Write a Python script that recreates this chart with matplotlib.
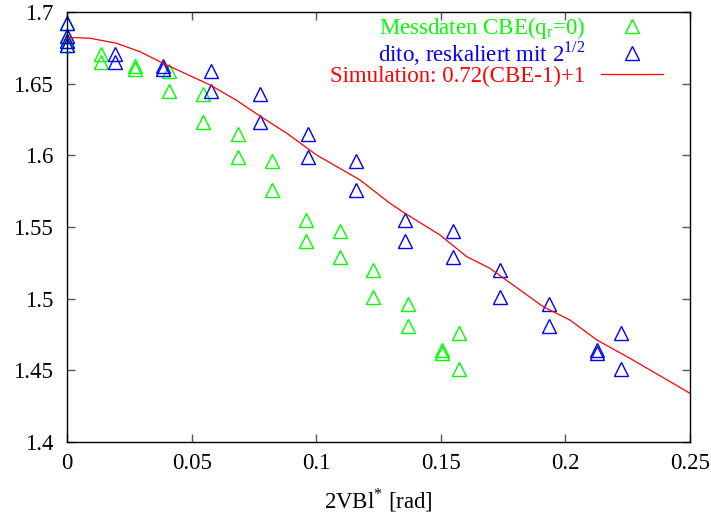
import matplotlib
matplotlib.use('Agg')
import matplotlib.pyplot as plt
from matplotlib.ticker import FuncFormatter

plt.rcParams['font.family'] = ['Liberation Serif', 'DejaVu Serif']
plt.rcParams['mathtext.fontset'] = 'custom'
plt.rcParams['mathtext.rm'] = 'Liberation Serif'

#----------------------------------------------------
# Data
mess_x = [0, 0, 0, 0, 0.0136, 0.0136, 0.0273, 0.0273, 0.0409, 0.0409,
          0.0547, 0.0547, 0.0685, 0.0685, 0.0821, 0.0821, 0.0958, 0.0958,
          0.1096, 0.1096, 0.1229, 0.1229, 0.1367, 0.1367, 0.1504, 0.1504,
          0.1573, 0.1573]
mess_y = [1.692, 1.683, 1.680, 1.677, 1.671, 1.665, 1.662, 1.660, 1.659, 1.645,
          1.643, 1.623, 1.615, 1.599, 1.596, 1.576, 1.555, 1.540,
          1.547, 1.529, 1.520, 1.501, 1.496, 1.481, 1.464, 1.462,
          1.476, 1.451]

dito_x = [0, 0, 0, 0, 0.0192, 0.0192, 0.0386, 0.0386, 0.0578, 0.0578,
          0.0774, 0.0774, 0.0969, 0.0969, 0.1161, 0.1161, 0.1355, 0.1355,
          0.1550, 0.1550, 0.1738, 0.1738, 0.1933, 0.1933, 0.2127, 0.2127,
          0.2224, 0.2224]
dito_y = mess_y

sim_x = [0, 0.0092, 0.0199, 0.0293, 0.0386, 0.0574, 0.0678, 0.0778, 0.0882,
         0.1002, 0.1176, 0.1296, 0.1356, 0.1497, 0.1604, 0.1697, 0.1911,
         0.2018, 0.2126, 0.2259, 0.25]
sim_y = [1.6823, 1.6817, 1.6782, 1.6723, 1.6642, 1.6491, 1.6386, 1.6270, 1.6154,
         1.6002, 1.5828, 1.5665, 1.5596, 1.5444, 1.5293, 1.5212, 1.4944,
         1.4851, 1.4712, 1.4584, 1.4340]

x_ticks = [0, 0.05, 0.1, 0.15, 0.2, 0.25]
y_ticks = [1.4, 1.45, 1.5, 1.55, 1.6, 1.65, 1.7]

#----------------------------------------------------
fs = 16.5
fig = plt.figure(figsize=(7.11, 5.21), dpi=100)
ax = fig.add_axes([67 / 711, 1 - 442 / 521, 623 / 711, 430 / 521])

mk = dict(linestyle='none', marker='^', markersize=9.5, markerfacecolor='none',
          markeredgewidth=1.0, clip_on=False)
ax.plot(mess_x, mess_y, color='#00ff00', label='Messdaten CBE(q$_\\mathregular{r}$=0)', **mk)
ax.plot(dito_x, dito_y, color='#0000ff', label='dito, reskaliert mit 2$^\\mathregular{1/2}$', **mk)
ax.plot(sim_x, sim_y, color='#ff0000', linewidth=0.9,
        label='Simulation: 0.72(CBE-1)+1')

ax.set_xlim(0, 0.25)
ax.set_ylim(1.4, 1.7)
ax.set_xticks(x_ticks)
ax.set_yticks(y_ticks)
fmt = FuncFormatter(lambda v, pos: f'{v:g}')
ax.xaxis.set_major_formatter(fmt)
ax.yaxis.set_major_formatter(fmt)
ax.tick_params(direction='in', length=6, width=1, color='#555555',
               top=True, right=True, labelsize=fs)
ax.tick_params(axis='x', pad=8)
ax.tick_params(axis='y', pad=10)
for s in ax.spines.values():
    s.set_linewidth(1)

ax.set_xlabel('2VBl$^{*}$ [rad]', fontsize=fs, labelpad=9)

leg = ax.legend(loc='upper right', bbox_to_anchor=(0.975, 1.02), frameon=False,
                markerfirst=False, numpoints=1, fontsize=fs, handlelength=2.7,
                labelspacing=-0.08, labelcolor='linecolor', handletextpad=0.7,
                borderaxespad=0.1)

fig.savefig('out.png', dpi=100)
